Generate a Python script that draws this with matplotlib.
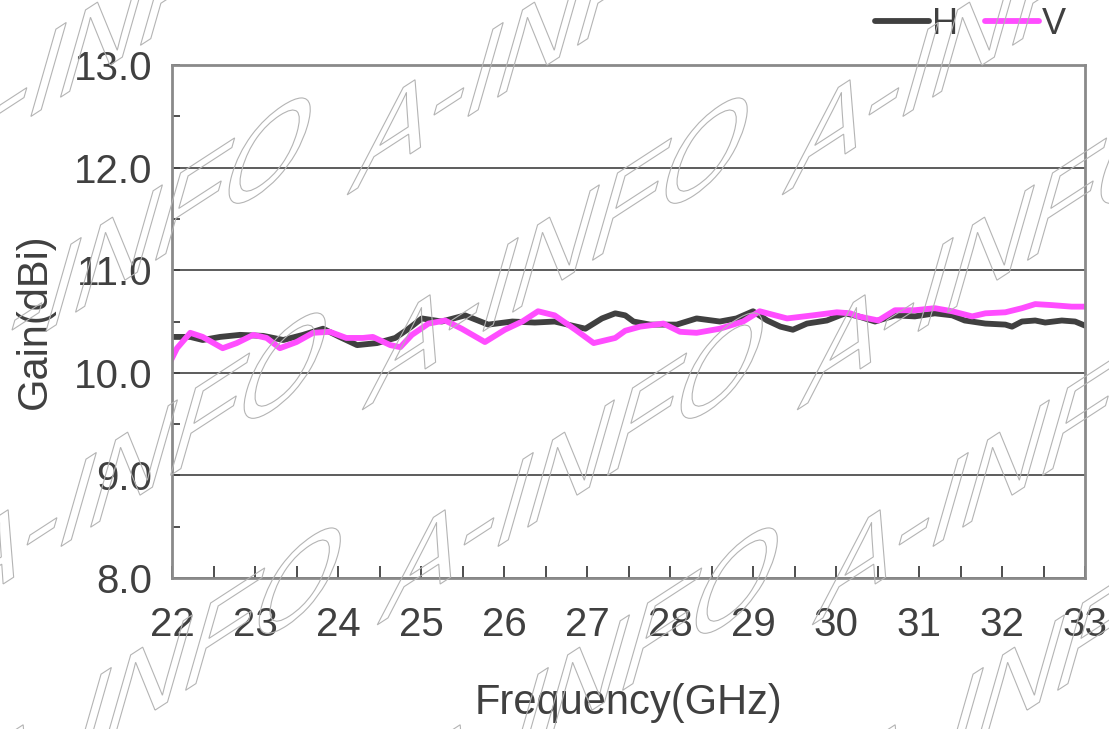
#!/usr/bin/env python

import math
import matplotlib
matplotlib.use('Agg')
import matplotlib.pyplot as plt
from matplotlib.font_manager import FontProperties
from matplotlib.patches import PathPatch
from matplotlib.textpath import TextPath
from matplotlib.transforms import Affine2D, IdentityTransform
from matplotlib.ticker import MultipleLocator

OUT_FILE = 'out.png'
WIDTH, HEIGHT = 1109, 729
TEXT_COLOR = '#404040'
H_COLOR = '#404040'
V_COLOR = '#ff4dff'

FREQ_H = [21.98, 22.22, 22.37, 22.58, 22.82, 23.10, 23.34, 23.58, 23.82, 24.02,
          24.23, 24.47, 24.69, 24.85, 25.01, 25.25, 25.53, 25.81, 26.10, 26.37,
          26.61, 26.98, 27.18, 27.34, 27.46, 27.56, 27.76, 28.08, 28.32, 28.60,
          28.80, 29.00, 29.17, 29.33, 29.48, 29.65, 29.89, 30.11, 30.27, 30.47,
          30.71, 30.95, 31.19, 31.40, 31.55, 31.80, 32.04, 32.12, 32.24, 32.40,
          32.52, 32.72, 32.88, 33.00]
GAIN_H = [10.35, 10.35, 10.32, 10.35, 10.37, 10.36, 10.32, 10.37, 10.43, 10.35,
          10.27, 10.29, 10.34, 10.43, 10.53, 10.50, 10.56, 10.47, 10.50, 10.49,
          10.50, 10.43, 10.53, 10.58, 10.56, 10.50, 10.47, 10.47, 10.53, 10.50,
          10.53, 10.60, 10.51, 10.45, 10.42, 10.48, 10.51, 10.58, 10.55, 10.50,
          10.56, 10.55, 10.58, 10.56, 10.51, 10.48, 10.47, 10.45, 10.50, 10.51,
          10.49, 10.51, 10.50, 10.46]

FREQ_V = [21.98, 22.06, 22.22, 22.37, 22.61, 22.78, 22.98, 23.14, 23.30, 23.50,
          23.70, 23.90, 24.10, 24.30, 24.42, 24.63, 24.75, 24.89, 25.09, 25.29,
          25.49, 25.77, 26.01, 26.22, 26.41, 26.61, 26.86, 27.08, 27.34, 27.46,
          27.64, 27.92, 28.12, 28.32, 28.60, 28.88, 29.08, 29.41, 29.72, 30.01,
          30.17, 30.27, 30.51, 30.71, 30.95, 31.19, 31.40, 31.64, 31.80, 32.04,
          32.24, 32.40, 32.60, 32.84, 33.00]
GAIN_V = [10.11, 10.24, 10.39, 10.35, 10.24, 10.29, 10.37, 10.34, 10.24, 10.30,
          10.39, 10.40, 10.34, 10.34, 10.35, 10.27, 10.25, 10.37, 10.48, 10.51,
          10.43, 10.30, 10.42, 10.50, 10.60, 10.56, 10.42, 10.29, 10.34, 10.41,
          10.45, 10.48, 10.40, 10.39, 10.43, 10.50, 10.60, 10.53, 10.56, 10.59,
          10.58, 10.55, 10.51, 10.61, 10.61, 10.63, 10.60, 10.55, 10.58, 10.59,
          10.63, 10.67, 10.66, 10.645, 10.645]

# watermark: start of each "A-INFO" in image pixels (from top-left)
WATERMARK = 'A-INFO'
WATERMARK_COLUMNS = [-75, 362, 797]
WATERMARK_ROWS = [-20, 195, 410, 625, 840]
WATERMARK_EM = 132
BASELINE_ANGLE = 33
UPRIGHT_ANGLE = 74


def draw_watermark(fig):
	path = TextPath((0, 0), WATERMARK, size=WATERMARK_EM,
		prop=FontProperties(family='Liberation Sans'))
	a = math.radians(BASELINE_ANGLE)
	b = math.radians(UPRIGHT_ANGLE)
	for y in WATERMARK_ROWS:
		for x in WATERMARK_COLUMNS:
			x0 = x + 0.07 * (y - 410)
			shear = Affine2D([[math.cos(a), math.cos(b), x0],
			                  [math.sin(a), math.sin(b), HEIGHT - y],
			                  [0, 0, 1]])
			patch = PathPatch(shear.transform_path(path), facecolor='none',
				edgecolor='#b4b4b4', lw=0.8, transform=IdentityTransform(), zorder=10)
			fig.add_artist(patch)


def main():
	plt.rcParams['font.family'] = ['Liberation Sans', 'DejaVu Sans']
	fig = plt.figure(figsize=(WIDTH / 100, HEIGHT / 100), dpi=100)
	ax = fig.add_axes([0.1551, 0.2071, 0.8233, 0.7037])

	ax.plot(FREQ_H, GAIN_H, color=H_COLOR, lw=4.2, label='H',
		solid_capstyle='round', solid_joinstyle='round')
	ax.plot(FREQ_V, GAIN_V, color=V_COLOR, lw=4.2, label='V',
		solid_capstyle='round', solid_joinstyle='round')

	ax.set_xlim(22, 33)
	ax.set_ylim(8, 13)
	ax.set_xticks(range(22, 34))
	ax.xaxis.set_minor_locator(MultipleLocator(0.5))
	ax.yaxis.set_minor_locator(MultipleLocator(0.5))
	ax.set_yticks(range(8, 14))
	ax.set_yticklabels(['%.1f' % v for v in range(8, 14)])
	ax.grid(axis='y', which='major', color='#303030', lw=1.1)
	ax.tick_params(axis='both', which='both', direction='in', color='#404040',
		labelcolor=TEXT_COLOR, labelsize=29)
	ax.tick_params(axis='x', which='both', length=9, width=1.3, pad=20)
	ax.tick_params(axis='y', which='both', length=6, width=1.3, pad=14)
	for spine in ax.spines.values():
		spine.set_color('#8a8a8a')
		spine.set_linewidth(2)

	ax.set_xlabel('Frequency(GHz)', fontsize=30, color=TEXT_COLOR, labelpad=28)
	ax.set_ylabel('Gain(dBi)', fontsize=30, color=TEXT_COLOR, labelpad=14)

	ax.legend(loc='center right', bbox_to_anchor=(1066 / WIDTH, 1 - 24 / HEIGHT),
		bbox_transform=fig.transFigure, ncol=2, frameon=False,
		fontsize=26, handlelength=1.5, handletextpad=0.08, columnspacing=0.75,
		borderaxespad=0, borderpad=0, labelcolor=TEXT_COLOR)

	draw_watermark(fig)
	fig.savefig(OUT_FILE, dpi=100)


if __name__ == '__main__':
	main()
